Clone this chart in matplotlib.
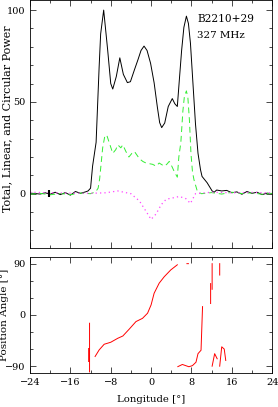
import numpy as np
import matplotlib
matplotlib.use("Agg")
import matplotlib.pyplot as plt
from matplotlib.ticker import MultipleLocator

plt.rcParams['font.family'] = ['DejaVu Serif']

# total intensity (black)
tot_lon = [-24, -23, -22, -21, -20, -19, -18, -17, -16, -15, -14, -13, -12.5, -12.0, -11.6, -10.9,
           -10.3, -10.0, -9.4, -8.6, -8.0, -7.6, -6.9, -6.2, -5.5, -4.7, -4.1, -3.3, -2.6, -2.0,
           -1.4, -0.8, -0.1, 0.6, 1.25, 1.7, 2.1, 2.7, 3.4, 4.2, 4.7, 5.2, 5.6, 6.05, 6.5, 7.0,
           7.4, 7.8, 8.3, 8.8, 9.3, 9.8, 10.1, 11.1, 12.1, 12.5, 13, 14, 15, 16, 17, 18, 19, 20,
           21, 22, 23, 24]
tot_val = [0.3, 0.1, -0.2, 0.5, -0.3, 0.8, -0.5, 0.6, -0.8, 1.2, 0.2, 1.0, 1.5, 3, 15, 28,
           69, 87, 100, 78, 60, 57, 63.8, 74, 65, 60.5, 61, 67.5, 73, 78,
           80.4, 78, 71, 60.4, 47, 38.7, 36, 38.5, 47.5, 51.8, 49, 47.5, 62, 78, 90.6, 96.7,
           92.7, 82, 60, 38, 22, 13, 9.4, 6, 1.5, 0.8, 2.0, 1.5, 1.8, 0.5, 1.0, -0.3, 1.2, 0.2,
           0.8, -0.5, 0.3, 0.0]

# linear polarization (green dashed)
lin_lon = [-24, -22, -20, -18, -16, -14, -12, -11.5, -11, -10.5, -10.2, -9.6, -9.2, -8.8, -8.2,
           -7.6, -7.0, -6.6, -6.0, -5.6, -5.0, -4.4, -3.8, -3.3, -2.8, -2.3, -1.6, -1.0, 0.3,
           1.0, 1.6, 2.6, 3.1, 3.6, 4.1, 4.6, 5.2, 5.5, 5.9, 6.3, 6.6, 7.0, 7.3, 7.6, 7.9, 8.2,
           8.5, 9.2, 10, 12, 14, 16, 18, 20, 22, 24]
lin_val = [-0.3, 0.2, -0.6, 0.1, -0.5, 0.3, 0.0, 0.5, 1, 3, 8, 25, 31, 32, 27,
           22, 24, 26.6, 25, 26.6, 23, 20, 22, 23, 21, 19, 17.5, 16.7, 16,
           15, 16.7, 15, 16, 17.6, 15, 12, 9, 20, 28, 45, 53, 56, 52, 40, 22, 12,
           7.6, 1, 0, 0.6, -0.2, 0.8, 0.1, 0.5, -0.3, 0.2]

# circular polarization (magenta dotted)
circ_lon = [-24, -20, -16, -12, -9, -6.6, -4, -2.3, -1.0, 0, 1, 2, 3, 4.3, 5.6, 6.9, 7.8, 8.8,
            12, 16, 20, 24]
circ_val = [0.8, 0.5, 0.3, 0.2, 0.5, 1.5, 0, -4, -9.6, -14, -11, -6, -3, -2.3, -1.5, -2.7, -5.3,
            0, 0.8, 0.5, 0.7, 0.4]

# position angle segments
pa_lon = [-11.1, -10.3, -9.3, -8.0, -6.6, -5.6, -4.3, -3.0, -1.7, -0.7, 0, 0.6, 1.6, 2.6, 3.9, 5.2, np.nan,
          7.1, 7.4, np.nan,
          -12.2, -12.2, np.nan,
          5.3, 6.2, 7.5, 8.2, 8.9, 9.3, 9.9, 10.2, np.nan,
          11.8, 11.8, np.nan, 12.1, 12.1, np.nan, 13.6, 13.6, np.nan,
          12.1, 12.6, 13.1, np.nan,
          13.6, 14.0, 14.5, 14.8]
pa_val = [-73, -61.5, -51.5, -48, -41, -37, -24.6, -11.7, -6, 3, 17.6, 38, 55.7, 67, 79, 88, np.nan,
          90, 90, np.nan,
          -14.6, -100, np.nan,
          -90.8, -87, -91, -89, -83, -68, -62, 14.6, np.nan,
          55, 20, np.nan, 90, 45, np.nan, 90, 70, np.nan,
          -90, -68, -77, np.nan,
          -90, -56, -60, -80]

fig = plt.figure(figsize=(2.78, 4.07), dpi=100)
ax1 = fig.add_axes([0.108, 0.391, 0.871, 0.609])
ax2 = fig.add_axes([0.108, 0.0835, 0.871, 0.2855])

ax1.plot(tot_lon, tot_val, color='black', lw=0.7)
ax1.plot(lin_lon, lin_val, color='#33ee33', lw=0.7, ls=(0, (6, 4)))
ax1.plot(circ_lon, circ_val, color='#ff44ff', lw=0.9, ls=(0, (1, 2.5)))
ax1.errorbar([-20.2], [0], yerr=[2], color='black', lw=1.5, capsize=0)
ax1.text(9.1, 95, 'B2210+29', fontsize=7.6, va='center')
ax1.text(9.1, 86, '327 MHz', fontsize=7.4, va='center')
ax1.set_xlim(-24, 24)
ax1.set_ylim(-29.5, 105.5)
ax1.set_yticks([0, 50, 100])
ax1.yaxis.set_minor_locator(MultipleLocator(10))
ax1.xaxis.set_major_locator(MultipleLocator(8))
ax1.xaxis.set_minor_locator(MultipleLocator(4))
ax1.tick_params(labelbottom=False)
ax1.set_ylabel('Total, Linear, and Circular Power', fontsize=8)
ax1.yaxis.set_label_coords(-0.075, 0.52)

ax2.plot(pa_lon, pa_val, color='red', lw=0.7)
ax2.errorbar([-12.3], [-70], yerr=[12], color='red', lw=1.2, capsize=0)
ax2.set_xlim(-24, 24)
ax2.set_ylim(-102, 102)
ax2.set_yticks([-90, 0, 90])
ax2.yaxis.set_minor_locator(MultipleLocator(30))
ax2.xaxis.set_major_locator(MultipleLocator(8))
ax2.xaxis.set_minor_locator(MultipleLocator(4))
ax2.set_xlabel('Longitude [°]', fontsize=7.3, labelpad=6)
ax2.set_ylabel('Position Angle [°]', fontsize=7.5)
ax2.yaxis.set_label_coords(-0.085, 0.5)

for ax in (ax1, ax2):
    ax.tick_params(which='both', direction='in', top=True, right=True, labelsize=7, width=0.5)
    ax.tick_params(which='major', length=4)
    ax.tick_params(which='minor', length=2)
    for s in ax.spines.values():
        s.set_linewidth(0.6)

fig.savefig('out.png', dpi=100)
